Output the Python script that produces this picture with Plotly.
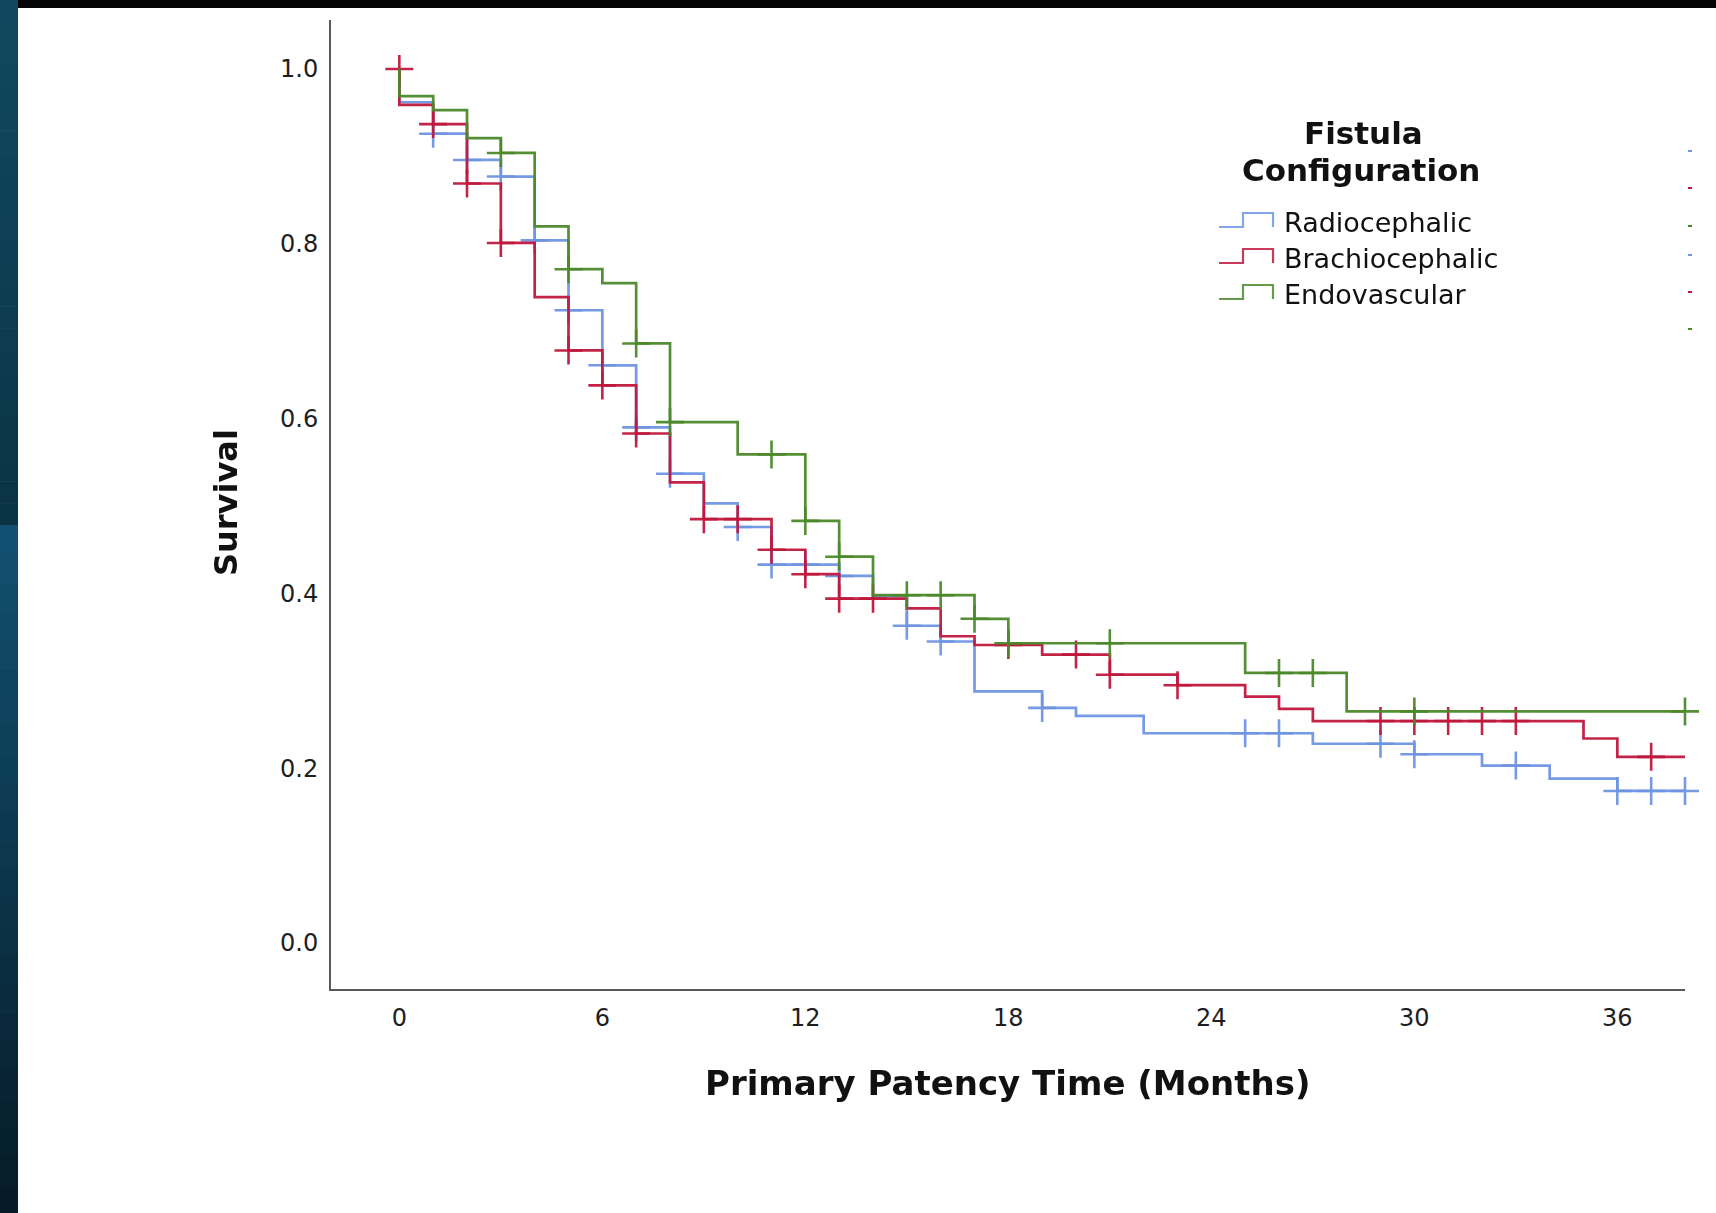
import numpy as np
import plotly.graph_objects as go

# ---------------- data ----------------
series_names = ["Radiocephalic", "Brachiocephalic", "Endovascular"]
series_colors = ["#6f95e2", "#c0183e", "#4b8a2b"]

radio_times = [0, 0, 1, 2, 3, 4, 5, 6, 7, 8, 9, 10, 11, 13, 14, 15, 16, 17, 19, 20, 22, 27, 30, 32, 34, 36, 38]
radio_surv = [1.0, 0.962, 0.926, 0.896, 0.877, 0.804, 0.724, 0.661, 0.590, 0.537, 0.503, 0.476, 0.433, 0.420,
              0.397, 0.363, 0.345, 0.288, 0.269, 0.260, 0.240, 0.228, 0.216, 0.203, 0.188, 0.174, 0.174]
radio_censored = [1, 2, 3, 4, 5, 6, 7, 8, 10, 11, 12, 13, 15, 16, 19, 25, 26, 29, 30, 33, 36, 37, 38]

brachio_times = [0, 0, 1, 2, 3, 4, 5, 6, 7, 8, 9, 11, 12, 13, 15, 16, 17, 19, 21, 23, 25, 26, 27, 35, 36, 38]
brachio_surv = [1.0, 0.959, 0.937, 0.869, 0.801, 0.739, 0.678, 0.638, 0.583, 0.527, 0.485, 0.450, 0.422, 0.394,
                0.383, 0.351, 0.341, 0.330, 0.307, 0.295, 0.282, 0.268, 0.254, 0.234, 0.213, 0.213]
brachio_censored = [0, 1, 2, 3, 5, 6, 7, 9, 10, 11, 12, 13, 14, 18, 20, 21, 23, 29, 30, 31, 32, 33, 37]

endo_times = [0, 0, 1, 2, 3, 4, 5, 6, 7, 8, 10, 12, 13, 14, 17, 18, 25, 28, 38]
endo_surv = [1.0, 0.969, 0.953, 0.921, 0.904, 0.820, 0.771, 0.755, 0.686, 0.596, 0.559, 0.483, 0.442, 0.398,
             0.371, 0.343, 0.309, 0.265, 0.265]
endo_censored = [3, 5, 7, 8, 11, 12, 13, 15, 16, 17, 18, 21, 26, 27, 30, 38]

x_ticks = [0, 6, 12, 18, 24, 30, 36]
y_ticks = [0.0, 0.2, 0.4, 0.6, 0.8, 1.0]

x_title = "Primary Patency Time (Months)"
y_title = "Survival"
legend_title = ["Fistula", "Configuration"]

# ---------------- layout geometry ----------------
W, H = 1716, 1213
L, R, T, B = 331, 31, 20, 224
PW, PH = W - L - R, H - T - B


def fx(px):
    return (px - L) / PW


def fy(py):
    return (H - B - py) / PH


def surv_at(times, surv, t):
    if t == times[0]:
        return surv[0]
    i = int(np.searchsorted(times, t, side="right")) - 1
    return surv[i]


FONT = "DejaVu Sans, Verdana, sans-serif"

fig = go.Figure()

all_series = [
    (radio_times, radio_surv, radio_censored),
    (brachio_times, brachio_surv, brachio_censored),
    (endo_times, endo_surv, endo_censored),
]

for (times, surv, cens), name, col in zip(all_series, series_names, series_colors):
    fig.add_trace(go.Scatter(
        x=times, y=surv, mode="lines", line=dict(color=col, width=2.7, shape="hv"),
        name=name, showlegend=False, cliponaxis=False, opacity=0.95))
    fig.add_trace(go.Scatter(
        x=cens, y=[surv_at(times, surv, t) for t in cens], mode="markers",
        marker=dict(symbol="cross-thin", size=20, line=dict(color=col, width=2.6)),
        name=name + " censored", showlegend=False, cliponaxis=False, opacity=0.95))

fig.update_xaxes(
    range=[-2.02, 38.0], tickvals=x_ticks, ticktext=[str(v) for v in x_ticks],
    showline=True, linecolor="#5a5a5a", linewidth=2, showgrid=False, zeroline=False,
    ticks="", tickfont=dict(family=FONT, size=24, color="#1e1e1e"), ticklabelstandoff=6)
fig.update_yaxes(
    range=[-0.0526, 1.0561], tickvals=y_ticks, ticktext=[f"{v:.1f}" for v in y_ticks],
    showline=True, linecolor="#5a5a5a", linewidth=2, showgrid=False, zeroline=False,
    ticks="", tickfont=dict(family=FONT, size=24, color="#1e1e1e"), ticklabelstandoff=6)

shapes = []


def hex2rgb(h):
    h = h.lstrip("#")
    return [int(h[i:i + 2], 16) for i in (0, 2, 4)]


def grad(y0, y1, c0, c1, n=24):
    a, b = hex2rgb(c0), hex2rgb(c1)
    for k in range(n):
        f = k / (n - 1)
        c = "rgb(%d,%d,%d)" % tuple(round(a[j] + (b[j] - a[j]) * f) for j in range(3))
        ya = y0 + (y1 - y0) * k / n
        yb = y0 + (y1 - y0) * (k + 1) / n + 0.6
        shapes.append(dict(type="rect", xref="paper", yref="paper", x0=fx(0), x1=fx(18),
                           y0=fy(ya), y1=fy(yb), fillcolor=c, line=dict(width=0), layer="below"))


# left dark-blue strip (stepped gradient)
grad(0, 525, "#10495f", "#0b3346")
grad(525, H, "#115070", "#061b27")
# top black bar
shapes.append(dict(type="rect", xref="paper", yref="paper", x0=fx(18), x1=fx(W), y0=fy(0), y1=fy(8),
                   fillcolor="#050505", line=dict(width=0), layer="below"))

annotations = [
    dict(text=x_title, xref="paper", yref="paper", x=fx(1007), y=fy(1083), showarrow=False,
         xanchor="center", yanchor="middle", font=dict(family=FONT, size=34, color="#111", weight="bold")),
    dict(text=y_title, xref="paper", yref="paper", x=fx(226), y=fy(503), showarrow=False, textangle=-90,
         xanchor="center", yanchor="middle", font=dict(family=FONT, size=32, color="#111", weight="bold")),
]
for txt, (cx, cy) in zip(legend_title, [(1363, 133), (1361, 170)]):
    annotations.append(dict(text=txt, xref="paper", yref="paper", x=fx(cx), y=fy(cy), showarrow=False,
                            xanchor="center", yanchor="middle",
                            font=dict(family=FONT, size=31, color="#111", weight="bold")))

item_y = [222, 258, 294]
for name, col, cy in zip(series_names, series_colors, item_y):
    annotations.append(dict(text=name, xref="paper", yref="paper", x=fx(1282), y=fy(cy), showarrow=False,
                            xanchor="left", yanchor="middle", font=dict(family=FONT, size=27, color="#111")))
    pts = [(1219, cy + 5), (1243, cy + 5), (1243, cy - 9), (1273, cy - 9), (1273, cy + 5)]
    path = "M " + " L ".join("%.5f,%.5f" % (fx(px), fy(py)) for px, py in pts)
    shapes.append(dict(type="path", xref="paper", yref="paper", path=path,
                       line=dict(color=col, width=2.2), opacity=0.85))

# remnants of a second (cut-off) legend at the right edge
for col, cy in zip(series_colors * 2, [151, 188, 226, 255, 292, 329]):
    shapes.append(dict(type="line", xref="paper", yref="paper", x0=fx(1688), x1=fx(1692),
                       y0=fy(cy), y1=fy(cy), line=dict(color=col, width=2)))

fig.update_layout(
    width=W, height=H, margin=dict(l=L, r=R, t=T, b=B, autoexpand=False),
    paper_bgcolor="#ffffff", plot_bgcolor="#ffffff", showlegend=False,
    shapes=shapes, annotations=annotations, font=dict(family=FONT),
)

fig.write_html("out.html", config={"displayModeBar": False},
               post_script="document.body.style.margin='0px';document.body.style.overflow='hidden';")
